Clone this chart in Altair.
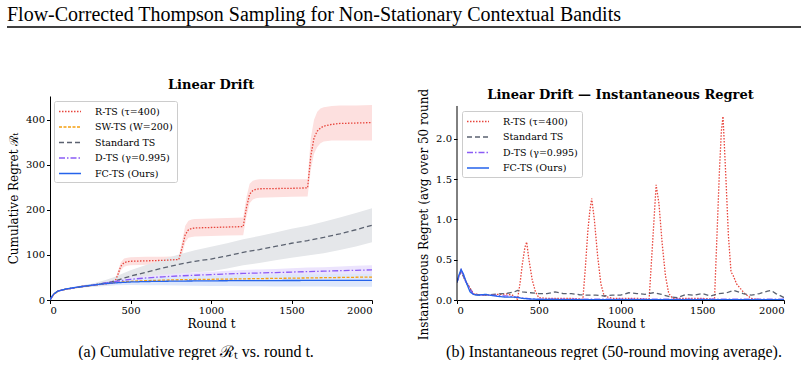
import altair as alt
import pandas as pd

SERIF = "DejaVu Serif"
TIMES = "Liberation Serif"

HEADER = "Flow-Corrected Thompson Sampling for Non-Stationary Contextual Bandits"
CAP_A = "(a) Cumulative regret ℛₜ vs. round t."
CAP_B = "(b) Instantaneous regret (50-round moving average)."
TITLE_A = "Linear Drift"
TITLE_B = "Linear Drift — Instantaneous Regret"

methods = ["R-TS (τ=400)", "SW-TS (W=200)", "Standard TS", "D-TS (γ=0.995)", "FC-TS (Ours)"]
colors = ["#e8453c", "#f5a011", "#5b6270", "#8b5cf6", "#2563eb"]
band_colors = ["#fde0df", "#feecd0", "#e5e7ea", "#ece4fd", "#dde7fb"]
dashes = [[1.5, 1.5], [3, 1.5], [5, 3], [6, 2, 1.5, 2], [1, 0]]
widths = [1.3, 1.3, 1.3, 1.3, 2.6]

x_ticks = [0, 500, 1000, 1500, 2000]

# ---------------- (a) cumulative regret ----------------
rts_x = [0, 10, 25, 50, 75, 100, 150, 200, 250, 300, 350, 400, 420, 440, 460, 480, 500, 600, 700, 800,
         820, 840, 860, 880, 900, 1000, 1100, 1200, 1220, 1240, 1260, 1280, 1300, 1400, 1500, 1600,
         1620, 1640, 1660, 1680, 1700, 1750, 1800, 1900, 2000]
rts_y = [0, 6, 13, 20, 22, 24, 27, 30, 32, 34, 36, 38, 55, 75, 83, 85, 86, 87, 88, 90,
         115, 145, 156, 159, 160, 161, 162, 163, 205, 235, 243, 246, 247, 247.5, 248, 249,
         320, 360, 375, 382, 386, 390, 392, 393, 394]
rts_lo = [0, 5, 12, 19, 21, 23, 26, 29, 31, 33, 34, 36, 48, 66, 74, 76, 77, 78, 79, 80,
          100, 128, 138, 140, 141, 142, 143, 144, 185, 215, 223, 226, 227, 228, 229, 230,
          290, 325, 340, 348, 352, 354, 354, 354, 354]
rts_hi = [0, 7, 14, 21, 23, 25, 28, 31, 33, 35, 38, 40, 62, 84, 92, 94, 95, 96, 96, 97,
          130, 165, 176, 179, 180, 181, 182, 183, 228, 258, 265, 267, 268, 268, 268, 268,
          360, 400, 418, 425, 428, 431, 432, 432, 433]

base_x = [0, 10, 25, 50, 75, 100, 150, 200, 250, 300, 350, 400, 500, 600, 700, 800, 900, 1000,
          1100, 1200, 1300, 1400, 1500, 1600, 1700, 1800, 1900, 2000]
std_y = [0, 6, 13, 20, 22, 24, 27, 30, 32, 35, 38, 42, 53, 62, 71, 79, 86, 91, 98, 106, 112, 119,
         126, 132, 139, 147, 156, 166]
std_lo = [0, 5, 12, 19, 21, 22.5, 25, 27.5, 29, 30, 31, 33, 40, 46, 52, 57, 61.5, 64, 70, 77, 82,
          88, 94, 99, 104, 111, 119, 128]
std_hi = [0, 7, 14, 21, 23, 25.5, 29, 32.5, 35, 40, 45, 51, 66, 78, 90, 101, 110.5, 118, 126, 135,
          142, 150, 158, 165, 174, 183, 193, 204]
sw_y = [0, 6, 13, 20, 22, 24, 27, 30, 32, 35, 37, 39, 41.5, 43, 44, 45, 45.5, 46, 46.5, 47, 47.5,
        48, 48.5, 49, 49.5, 50, 50.5, 51]
sw_lo = [0, 5.5, 12, 19, 21, 23, 26, 28.5, 30, 32.5, 34, 35.5, 37, 38, 38.5, 39, 39, 39.5, 39.5,
         40, 40, 40.5, 40.5, 41, 41, 41.5, 41.5, 42]
sw_hi = [0, 6.5, 14, 21, 23, 25, 28, 31.5, 34, 37.5, 40, 42.5, 46, 48, 49.5, 51, 52, 52.5, 53.5,
         54, 55, 55.5, 56.5, 57, 58, 58.5, 59.5, 60]
dts_y = [0, 6, 13, 20, 22, 24, 27, 30, 32, 35, 38, 41, 46, 49, 51.5, 53.5, 55, 56.5, 58, 59, 60,
         61, 62, 63, 64, 65, 66, 67]
dts_lo = [0, 5.5, 12, 19, 21, 23, 26, 28.5, 30.5, 33, 35.5, 38, 42, 44.5, 46.5, 48, 49, 50, 51,
          51.5, 52, 53, 53.5, 54, 55, 55.5, 56, 57]
dts_hi = [0, 6.5, 14, 21, 23, 25, 28, 31.5, 33.5, 37, 40.5, 44, 50, 53.5, 56.5, 59, 61, 63, 65,
          66.5, 68, 69, 70.5, 72, 73, 74.5, 76, 77]
fc_y = [0, 7, 14, 20, 22.5, 24.5, 27.5, 30, 32.5, 34.5, 36.5, 38, 40, 41, 41.5, 42, 42.3, 42.6,
        42.8, 43, 43.1, 43.2, 43.3, 43.4, 43.5, 43.5, 43.6, 43.6]
fc_lo = [0, 6.5, 13, 19, 21.5, 23, 25.5, 27.5, 29.5, 31, 32, 33, 33.5, 33, 32.5, 32, 31.5, 31, 31,
         30.5, 30.5, 30, 30, 30, 30, 29.5, 29.5, 29.5]
fc_hi = [0, 7.5, 15, 21, 23.5, 26, 29.5, 32.5, 35.5, 38, 41, 43, 46.5, 49, 50.5, 52, 53, 54, 54.5,
         55.5, 55.5, 56.5, 56.5, 57, 57, 57.5, 57.5, 57.5]

# ---------------- (b) instantaneous regret ----------------
ir_rts_x = [0, 25, 50, 100, 150, 200, 250, 300, 340, 360, 370, 385, 400, 415, 426, 440, 460, 480,
            500, 550, 600, 700, 770, 785, 800, 812, 824, 840, 860, 880, 900, 950, 1000, 1100, 1175,
            1190, 1205, 1218, 1235, 1255, 1275, 1295, 1320, 1400, 1500, 1575, 1590, 1605, 1617,
            1627, 1645, 1660, 1676, 1690, 1710, 1730, 1760, 1800, 1850, 1900, 2000]
ir_rts_y = [0.22, 0.37, 0.25, 0.08, 0.06, 0.06, 0.07, 0.075, 0.06, 0.02, 0.01, 0.2, 0.45, 0.65,
            0.72, 0.5, 0.25, 0.1, 0.03, 0.02, 0.02, 0.02, 0.01, 0.4, 0.85, 1.1, 1.26, 1.0, 0.55,
            0.2, 0.05, 0.02, 0.02, 0.02, 0.01, 0.5, 1.0, 1.43, 1.2, 0.7, 0.3, 0.08, 0.02, 0.02,
            0.02, 0.01, 0.8, 1.6, 2.1, 2.28, 1.5, 0.8, 0.35, 0.3, 0.2, 0.15, 0.08, 0.02, 0.005,
            0.005, 0.005]
ir_std_x = [0, 25, 50, 100, 150, 200, 250, 300, 350, 370, 400, 450, 500, 550, 600, 650, 700, 750,
            800, 850, 900, 950, 1000, 1050, 1100, 1150, 1200, 1250, 1300, 1350, 1400, 1450, 1500,
            1550, 1600, 1650, 1690, 1750, 1800, 1850, 1900, 1920, 1950, 2000]
ir_std_y = [0.22, 0.36, 0.24, 0.07, 0.06, 0.065, 0.075, 0.08, 0.1, 0.12, 0.1, 0.09, 0.08, 0.08,
            0.1, 0.08, 0.08, 0.065, 0.06, 0.06, 0.05, 0.06, 0.06, 0.09, 0.08, 0.07, 0.09, 0.07,
            0.04, 0.03, 0.07, 0.06, 0.08, 0.05, 0.08, 0.09, 0.12, 0.08, 0.06, 0.08, 0.11, 0.12,
            0.08, 0.03]
ir_dts_x = [0, 25, 50, 100, 150, 200, 250, 300, 350, 400, 450, 500, 600, 800, 1000, 1500, 2000]
ir_dts_y = [0.22, 0.37, 0.24, 0.07, 0.065, 0.06, 0.055, 0.05, 0.04, 0.025, 0.015, 0.01, 0.01,
            0.01, 0.01, 0.01, 0.01]
ir_fc_x = [0, 10, 25, 40, 60, 80, 100, 125, 150, 175, 200, 250, 300, 350, 380, 400, 450, 500,
           600, 800, 1000, 1500, 2000]
ir_fc_y = [0.22, 0.3, 0.38, 0.32, 0.2, 0.1, 0.07, 0.06, 0.065, 0.07, 0.06, 0.045, 0.035, 0.035,
           0.03, 0.02, 0.012, 0.008, 0.006, 0.005, 0.005, 0.005, 0.005]


def frame(name, xs, ys, lo=None, hi=None):
    d = {"method": name, "round": xs, "value": ys}
    if lo is not None:
        d["lo"] = lo
        d["hi"] = hi
    return pd.DataFrame(d)


left_df = pd.concat([
    frame(methods[0], rts_x, rts_y, rts_lo, rts_hi),
    frame(methods[1], base_x, sw_y, sw_lo, sw_hi),
    frame(methods[2], base_x, std_y, std_lo, std_hi),
    frame(methods[3], base_x, dts_y, dts_lo, dts_hi),
    frame(methods[4], base_x, fc_y, fc_lo, fc_hi),
], ignore_index=True)
left_df["band"] = left_df["method"] + " band"
band_names = [m + " band" for m in methods]

right_methods = [methods[0], methods[2], methods[3], methods[4]]
right_df = pd.concat([
    frame(methods[0], ir_rts_x, ir_rts_y),
    frame(methods[2], ir_std_x, ir_std_y),
    frame(methods[3], ir_dts_x, ir_dts_y),
    frame(methods[4], ir_fc_x, ir_fc_y),
], ignore_index=True)

AX = dict(labelFont=SERIF, labelFontSize=10, labelColor="black", titleFont=SERIF,
          titleFontSize=12, titleFontWeight="normal", titleColor="black", domainColor="black",
          domainWidth=1, tickColor="black", tickSize=3.5, tickWidth=1, grid=False, labelPadding=2)


def legend(x, y):
    return alt.Legend(title=None, orient="none", legendX=x, legendY=y,
                      symbolType="M-2,0H2", symbolSize=121, symbolOffset=5.5,
                      labelFont=SERIF, labelFontSize=9.5, labelColor="black",
                      padding=4, rowPadding=4.5, strokeColor="#cccccc", fillColor="white",
                      cornerRadius=2, labelLimit=300, labelOffset=18.5)


def encodings(names, lx, ly):
    idx = [methods.index(n) for n in names]
    col = alt.Color("method:N", scale=alt.Scale(domain=names, range=[colors[i] for i in idx]),
                    legend=legend(lx, ly))
    dash = alt.StrokeDash("method:N", scale=alt.Scale(domain=names, range=[dashes[i] for i in idx]),
                          legend=legend(lx, ly))
    sw = alt.StrokeWidth("method:N", scale=alt.Scale(domain=names, range=[widths[i] for i in idx]),
                         legend=legend(lx, ly))
    return col, dash, sw


xa = alt.X("round:Q", scale=alt.Scale(domain=[0, 2000], nice=False, zero=False),
           axis=alt.Axis(values=x_ticks, title="Round t", titlePadding=3, format="d", **AX))

one = pd.DataFrame({"k": [0]})


def text_layer(txt, x, y, font, size, weight="normal", align="center", baseline="middle"):
    return alt.Chart(one).mark_text(font=font, fontSize=size, fontWeight=weight, align=align,
                                    baseline=baseline, color="black", text=txt).encode(
        x=alt.value(x), y=alt.value(y))


# left
col, dash, sw = encodings(methods, 4, 5)
band_l = alt.Chart(left_df).mark_area(opacity=1).encode(
    x=xa,
    y=alt.Y("lo:Q"),
    y2="hi:Q",
    fill=alt.Fill("band:N", scale=alt.Scale(domain=band_names, range=band_colors), legend=None),
    detail="band:N",
)
line_l = alt.Chart(left_df).mark_line(clip=True).encode(
    x=xa,
    y=alt.Y("value:Q", scale=alt.Scale(domain=[0, 453], nice=False),
            axis=alt.Axis(values=[0, 100, 200, 300, 400], title="Cumulative Regret ℛₜ",
                          titlePadding=5, **AX)),
    color=col, strokeDash=dash, strokeWidth=sw,
    order=alt.Order("round:Q"),
)
header = text_layer(HEADER, -43, -91, TIMES, 20, align="left", baseline="top")
header_rule = alt.Chart(one).mark_rule(color="black", strokeWidth=1.3).encode(
    x=alt.value(-43), x2=alt.value(751), y=alt.value(-69))
title_a = text_layer(TITLE_A, 161, -11, SERIF, 13, weight="bold")
cap_a = text_layer(CAP_A, 146, 261, TIMES, 16, baseline="alphabetic")

left = alt.layer(band_l, line_l, header, header_rule, title_a, cap_a).properties(
    width=322, height=204,
)

# right
rcol, rdash, rsw = encodings(right_methods, 5, 15)
ymax_axis = 2.41
line_r = alt.Chart(right_df).mark_line(clip=True).encode(
    x=xa,
    y=alt.Y("value:Q", scale=alt.Scale(domain=[0, 2.534], nice=False),
            axis=alt.Axis(values=[0, 0.5, 1.0, 1.5, 2.0], format=".1f", domain=False,
                          title="Instantaneous Regret (avg over 50 round", titleY=118,
                          titlePadding=5, **AX)),
    color=rcol, strokeDash=rdash, strokeWidth=rsw,
    order=alt.Order("round:Q"),
)
axis_line = alt.Chart(one).mark_rule(color="black", strokeWidth=1).encode(
    x=alt.value(0), y=alt.datum(0), y2=alt.datum(ymax_axis))
title_b = text_layer(TITLE_B, 163.5, -1, SERIF, 13, weight="bold")
cap_b = text_layer(CAP_B, 157, 261, TIMES, 16, baseline="alphabetic")

right = alt.layer(line_r, axis_line, title_b, cap_b).properties(
    width=327, height=204,
)

chart = alt.hconcat(left, right, spacing=85, bounds="flush").resolve_scale(
    color="independent", strokeDash="independent", strokeWidth="independent", fill="independent",
    x="independent", y="independent",
).resolve_legend(color="independent", strokeDash="independent", strokeWidth="independent").properties(
    padding={"left": 6, "top": 5, "right": 0, "bottom": 0},
    background="white",
).configure_view(strokeWidth=0)

chart.save("out.html", embed_options={"renderer": "svg", "actions": False})
